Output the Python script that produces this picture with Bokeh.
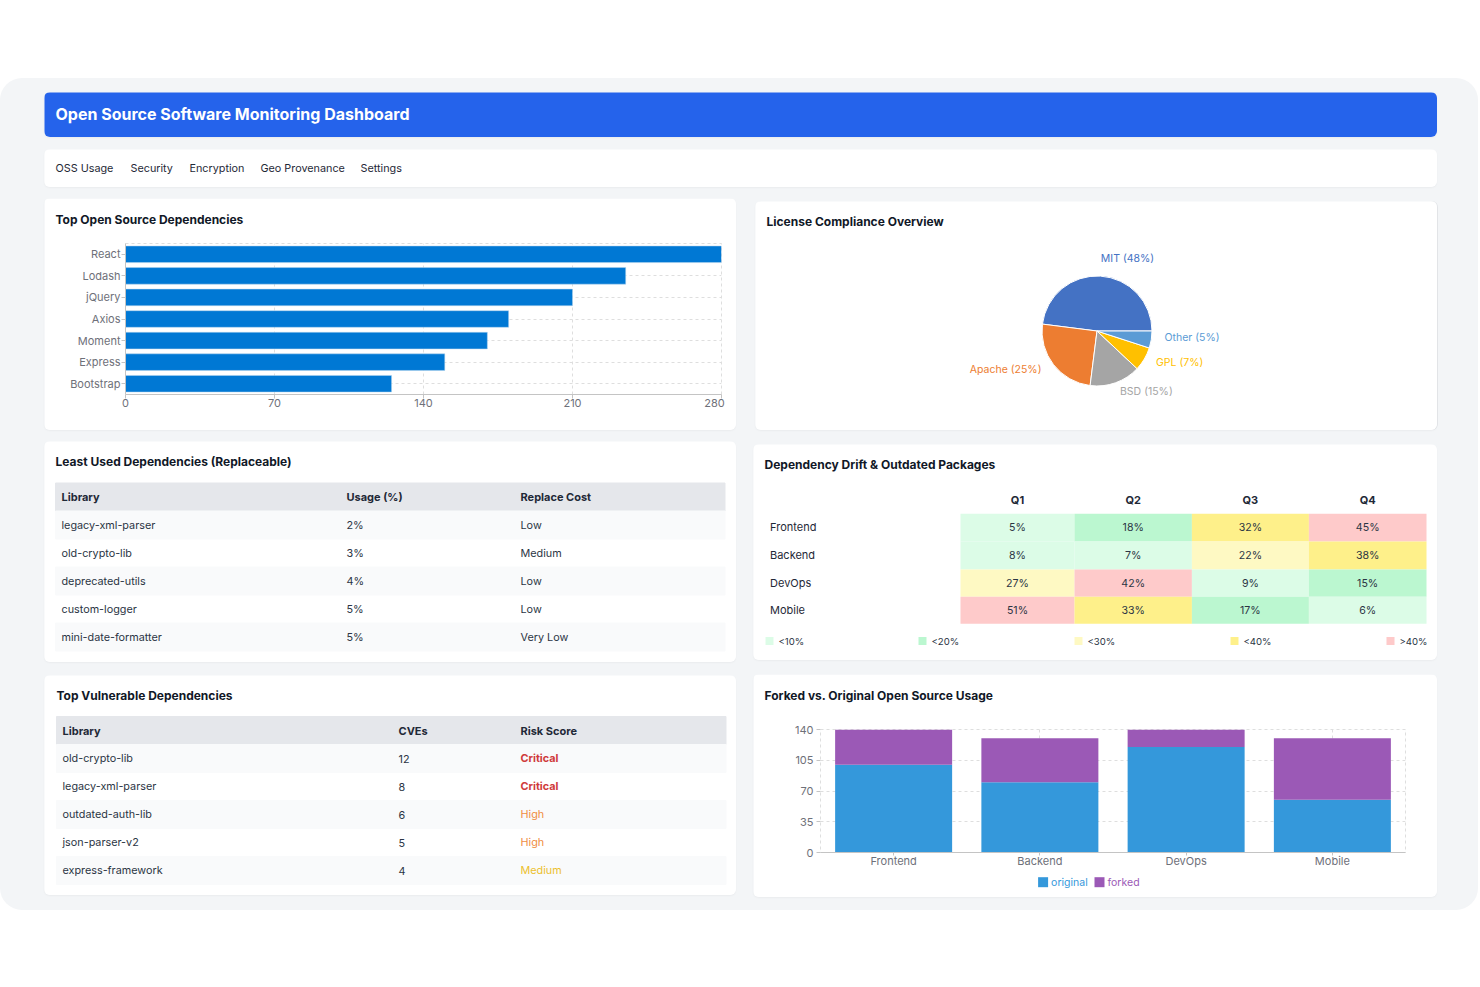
from itertools import accumulate
from math import pi

from bokeh.core.properties import value
from bokeh.embed import file_html
from bokeh.layouts import column, row
from bokeh.models import FactorRange, FixedTicker, Label, Range1d
from bokeh.plotting import figure
from bokeh.resources import INLINE

# ---------- data ----------
DASH_TITLE = "Open Source Software Monitoring Dashboard"
NAV_ITEMS = ["OSS Usage", "Security", "Encryption", "Geo Provenance", "Settings"]

DEP_NAMES = ["React", "Lodash", "jQuery", "Axios", "Moment", "Express", "Bootstrap"]
DEP_VALUES = [280, 235, 210, 180, 170, 150, 125]
DEP_TICKS = [0, 70, 140, 210, 280]

LICENSE_NAMES = ["MIT", "Apache", "BSD", "GPL", "Other"]
LICENSE_SHARES = [48, 25, 15, 7, 5]

LEAST_HEAD = ["Library", "Usage (%)", "Replace Cost"]
LEAST_LIB = ["legacy-xml-parser", "old-crypto-lib", "deprecated-utils", "custom-logger", "mini-date-formatter"]
LEAST_USAGE = ["2%", "3%", "4%", "5%", "5%"]
LEAST_COST = ["Low", "Medium", "Low", "Low", "Very Low"]

VULN_HEAD = ["Library", "CVEs", "Risk Score"]
VULN_LIB = ["old-crypto-lib", "legacy-xml-parser", "outdated-auth-lib", "json-parser-v2", "express-framework"]
VULN_CVES = ["12", "8", "6", "5", "4"]
VULN_RISK = ["Critical", "Critical", "High", "High", "Medium"]

TEAMS = ["Frontend", "Backend", "DevOps", "Mobile"]
QUARTERS = ["Q1", "Q2", "Q3", "Q4"]
DRIFT_Q1 = [5, 8, 27, 51]
DRIFT_Q2 = [18, 7, 42, 33]
DRIFT_Q3 = [32, 22, 9, 17]
DRIFT_Q4 = [45, 38, 15, 6]
DRIFT_LEGEND = ["<10%", "<20%", "<30%", "<40%", ">40%"]

FORK_ORIGINAL = [100, 80, 120, 60]
FORK_FORKED = [40, 50, 20, 70]
FORK_TICKS = [0, 35, 70, 105, 140]

# ---------- styles ----------
FONT = "Inter"
PANEL = "#f3f5f7"
INK = "#111827"
BODY = "#2b3544"
AXIS_TEXT = "#6e7079"
GRID = "#dedede"
AXIS_LINE = "#c4c4c4"
BAR_BLUE = "#0078d4"
PIE_COLORS = ["#4472c4", "#ed7d31", "#a5a5a5", "#ffc000", "#5b9bd5"]
DRIFT_COLORS = ["#dcfce7", "#bbf7d0", "#fef9c3", "#fef08a", "#fecaca"]
RISK_COLORS = {"Critical": "#cf3b3b", "High": "#f08d43", "Medium": "#ecc02d"}
FORK_COLORS = ["#3498db", "#9b59b6"]
SHADOW = "0 1px 2px rgba(0,0,0,0.04)"
CARD_STYLE = {"border-radius": "6px", "overflow": "hidden", "box-shadow": SHADOW}
F = value(FONT)
BODY_SIZE = "10.8px"


def card(w, h, margin, **kw):
    args = dict(width=w, height=h, output_backend="svg", toolbar_location=None, frame_align=False,
                min_border=0, outline_line_color=None, background_fill_color="white",
                border_fill_color="white", styles=CARD_STYLE, margin=margin)
    args.update(kw)
    return figure(**args)


def plain(p):
    p.axis.visible = False
    p.grid.visible = False
    return p


def px_card(w, h, margin, **kw):
    return plain(card(w, h, margin, x_range=Range1d(0, w), y_range=Range1d(h, 0), **kw))


def overlay(w, h):
    """Transparent sheet pulled back over the card above it, for texts outside that card's plot frame."""
    return px_card(w, h, (-h, 0, 0, 0), background_fill_color=None, border_fill_color=None, styles={})


def caption(p, text, x, y, size="12px", color=INK, style="bold", align="left"):
    p.add_layout(Label(x=x, y=y, x_units="screen", y_units="screen", text=text,
                       text_font=FONT, text_font_size=size, text_color=color,
                       text_font_style=style, text_baseline="middle", text_align=align))


def style_axis(ax, standoff):
    ax.major_label_text_font = FONT
    ax.major_label_text_font_size = "11px"
    ax.major_label_text_color = AXIS_TEXT
    ax.axis_line_color = AXIS_LINE
    ax.major_tick_line_color = AXIS_LINE
    ax.major_tick_in = 0
    ax.major_tick_out = 4
    ax.minor_tick_line_color = None
    ax.major_label_standoff = standoff


def style_grid(g):
    g.grid_line_color = GRID
    g.grid_line_dash = [3, 3]
    g.grid_line_width = 1


# ---------- header & nav ----------
head = px_card(1393, 45, (14, 0, 0, 44), background_fill_color="#2563eb", border_fill_color="#2563eb")
caption(head, DASH_TITLE, 11, 23.5, "16px", "white")

nav = px_card(1393, 38, (12, 0, 0, 44))
nav.text(x=[11, 86, 145, 216, 316], y=[18.5] * 5, text=NAV_ITEMS, text_font=F,
         text_font_size="10.8px", text_color="#1f2937", text_baseline="middle")

# ---------- top dependencies ----------
bars = card(692, 232, (0, 0, 0, 0), min_border_left=81, min_border_right=15, min_border_top=45,
            min_border_bottom=36, x_range=Range1d(0, DEP_TICKS[-1]),
            y_range=FactorRange(*reversed(DEP_NAMES)), outline_line_color=GRID,
            outline_line_dash=[3, 3])
bars.hbar(y=DEP_NAMES, right=DEP_VALUES, height=0.77, color=BAR_BLUE, line_color="#b6d6ee", line_width=0.5)
style_axis(bars.xaxis[0], 0)
style_axis(bars.yaxis[0], 1)
bars.xaxis[0].ticker = FixedTicker(ticks=DEP_TICKS)
bars.xaxis[0].major_label_overrides = {DEP_TICKS[-1]: ""}
style_grid(bars.xgrid[0])
style_grid(bars.ygrid[0])
bars.xgrid[0].ticker = FixedTicker(ticks=DEP_TICKS)

bars_top = overlay(692, 232)
bars_top.text(x=[11], y=[20.5], text=["Top Open Source Dependencies"], text_font=F, text_font_size="12px",
              text_font_style="bold", text_color=INK, text_baseline="middle")
bars_top.text(x=[670], y=[204.5], text=[str(DEP_TICKS[-1])], text_font=F, text_font_size="11px",
              text_color=AXIS_TEXT, text_align="center", text_baseline="middle")

# ---------- license pie ----------
pie = plain(card(682, 229, (3, 0, 0, 2), x_range=Range1d(-341.5, 340.5), y_range=Range1d(-99.5, 129.5),
                 styles={**CARD_STYLE, "box-shadow": SHADOW + ", 1px 0 0 #e4e6e9"}))
ends = list(accumulate(LICENSE_SHARES))
starts = [0] + ends[:-1]
pie.wedge(x=0, y=0, radius=55,
          start_angle=[s / 100 * 2 * pi for s in starts],
          end_angle=[e / 100 * 2 * pi for e in ends],
          fill_color=PIE_COLORS, line_color="white", line_width=1)
PIE_LABEL_DX = [30.5, -55.5, 23, 59, 67.5]
PIE_LABEL_DY = [73, -38, -60, -31, -6]
PIE_LABEL_ALIGN = ["center", "right", "left", "left", "left"]
pie.text(x=PIE_LABEL_DX, y=PIE_LABEL_DY,
         text=[f"{n} ({s}%)" for n, s in zip(LICENSE_NAMES, LICENSE_SHARES)],
         text_color=PIE_COLORS, text_align=PIE_LABEL_ALIGN, text_baseline="middle",
         text_font=F, text_font_size="10.5px")
caption(pie, "License Compliance Overview", 11, 209)


# ---------- tables ----------
def table(margin, h, title, heads, col1, col2, col3, col_x, top, left, color3=None):
    p = px_card(692, h, margin)
    caption(p, title, left, h - 20)
    right = left + 669.5
    rows = len(col1)
    p.quad(left=left, right=right, top=top, bottom=top + 28, color="#e5e7eb")
    alt = [i for i in range(rows) if i % 2 == 0]
    p.quad(left=left, right=right, top=[top + 28 + 28 * i for i in alt],
           bottom=[top + 56 + 28 * i for i in alt], color="#f9fafb")
    p.text(x=col_x, y=[top + 14] * 3, text=heads, text_font=F, text_font_size="11px",
           text_font_style="bold", text_color="#1f2937", text_baseline="middle")
    ys = [top + 42 + 28 * i for i in range(rows)]
    for j, c in enumerate((col1, col2)):
        p.text(x=[col_x[j]] * rows, y=ys, text=c, text_font=F, text_font_size=BODY_SIZE,
               text_color=BODY, text_baseline="middle")
    if color3 is None:
        p.text(x=[col_x[2]] * rows, y=ys, text=col3, text_font=F, text_font_size=BODY_SIZE,
               text_color=BODY, text_baseline="middle")
    else:
        for level, col in color3.items():
            idx = [i for i, v in enumerate(col3) if v == level]
            p.text(x=[col_x[2]] * len(idx), y=[ys[i] for i in idx], text=[col3[i] for i in idx],
                   text_font=F, text_font_size=BODY_SIZE, text_color=col, text_baseline="middle",
                   text_font_style="bold" if level == "Critical" else "normal")
    return p


least = table((11, 0, 0, 0), 221, "Least Used Dependencies (Replaceable)", LEAST_HEAD,
              LEAST_LIB, LEAST_USAGE, LEAST_COST, [17, 302, 476], 41.5, 11)
vuln = table((13, 0, 0, 0), 220, "Top Vulnerable Dependencies", VULN_HEAD,
             VULN_LIB, VULN_CVES, VULN_RISK, [18, 354, 476], 41, 12, RISK_COLORS)

# ---------- drift heat table ----------
drift = px_card(684, 216, (14, 0, 0, 0))
caption(drift, "Dependency Drift & Outdated Packages", 11, 196)
DRIFT = [DRIFT_Q1, DRIFT_Q2, DRIFT_Q3, DRIFT_Q4]
COL_EDGES = [207, 321, 438.4, 555.4, 673]
ROW_EDGES = [69.3, 97, 125, 152.3, 179.3]
col_mid = [(a + b) / 2 for a, b in zip(COL_EDGES, COL_EDGES[1:])]
row_mid = [(a + b) / 2 for a, b in zip(ROW_EDGES, ROW_EDGES[1:])]


def bucket(v):
    return min(v // 10, 4)


flat = [(i, j, DRIFT[i][j]) for i in range(len(QUARTERS)) for j in range(len(TEAMS))]
drift.quad(left=[COL_EDGES[i] for i, j, v in flat], right=[COL_EDGES[i + 1] for i, j, v in flat],
           top=[ROW_EDGES[j] for i, j, v in flat], bottom=[ROW_EDGES[j + 1] for i, j, v in flat],
           color=[DRIFT_COLORS[bucket(v)] for i, j, v in flat], line_width=0)
drift.text(x=[col_mid[i] for i, j, v in flat], y=[row_mid[j] for i, j, v in flat],
           text=[f"{v}%" for i, j, v in flat], text_font=F, text_font_size="10.6px",
           text_color=BODY, text_align="center", text_baseline="middle")
drift.text(x=col_mid, y=[55] * 4, text=QUARTERS, text_font=F, text_font_size="11px", text_font_style="bold",
           text_color="#1f2937", text_align="center", text_baseline="middle")
drift.text(x=[16.5] * 4, y=[m - 0.5 for m in row_mid], text=TEAMS, text_font=F, text_font_size="11px",
           text_color="#1f2937", text_baseline="middle")
LEG_X = [12, 165, 321, 477, 633]
drift.quad(left=LEG_X, right=[x + 8 for x in LEG_X], top=[192.5] * 5, bottom=[200.5] * 5, color=DRIFT_COLORS,
           line_width=0)
drift.text(x=[x + 13 for x in LEG_X], y=[196.5] * 5, text=DRIFT_LEGEND, text_font=F, text_font_size="9.6px",
           text_color=BODY, text_baseline="middle")

# ---------- forked vs original ----------
fork = card(684, 223, (14, 0, 0, 0), min_border_left=67, min_border_right=32, min_border_top=55,
            min_border_bottom=45, x_range=FactorRange(*TEAMS), y_range=Range1d(0, FORK_TICKS[-1]),
            outline_line_color=GRID, outline_line_dash=[3, 3])
fork.vbar_stack(["original", "forked"], x="team", width=0.8, color=FORK_COLORS,
                line_width=0, source=dict(team=TEAMS, original=FORK_ORIGINAL, forked=FORK_FORKED))
style_axis(fork.xaxis[0], -2)
style_axis(fork.yaxis[0], 3)
fork.yaxis[0].axis_line_color = None
fork.yaxis[0].ticker = FixedTicker(ticks=FORK_TICKS)
fork.ygrid[0].ticker = FixedTicker(ticks=FORK_TICKS)
fork.xaxis[0].major_tick_out = 3
style_grid(fork.xgrid[0])
style_grid(fork.ygrid[0])

fork_top = overlay(684, 223)
fork_top.text(x=[11], y=[20.5], text=["Forked vs. Original Open Source Usage"], text_font=F, text_font_size="12px",
              text_font_style="bold", text_color=INK, text_baseline="middle")
SWATCH_X = [284.6, 341]
fork_top.quad(left=SWATCH_X, right=[x + 10 for x in SWATCH_X], top=[202.7, 202.7], bottom=[212.7, 212.7],
              color=FORK_COLORS, line_width=0)
fork_top.text(x=[x + 13 for x in SWATCH_X], y=[207.7, 207.7], text=["original", "forked"],
              text_color=FORK_COLORS, text_font=F, text_font_size="10.5px", text_baseline="middle")

# ---------- page ----------
left_col = column(bars, bars_top, least, vuln, spacing=0, margin=(11, 0, 0, 44))
right_col = column(pie, drift, fork, fork_top, spacing=0, margin=(11, 0, 0, 17))
page = column(head, nav, row(left_col, right_col, spacing=0), spacing=0, width=1478, height=832,
              margin=(78, 0, 0, 0), styles={"background": PANEL, "border-radius": "22px"})

open("out.html", "w").write(file_html(page, INLINE))
